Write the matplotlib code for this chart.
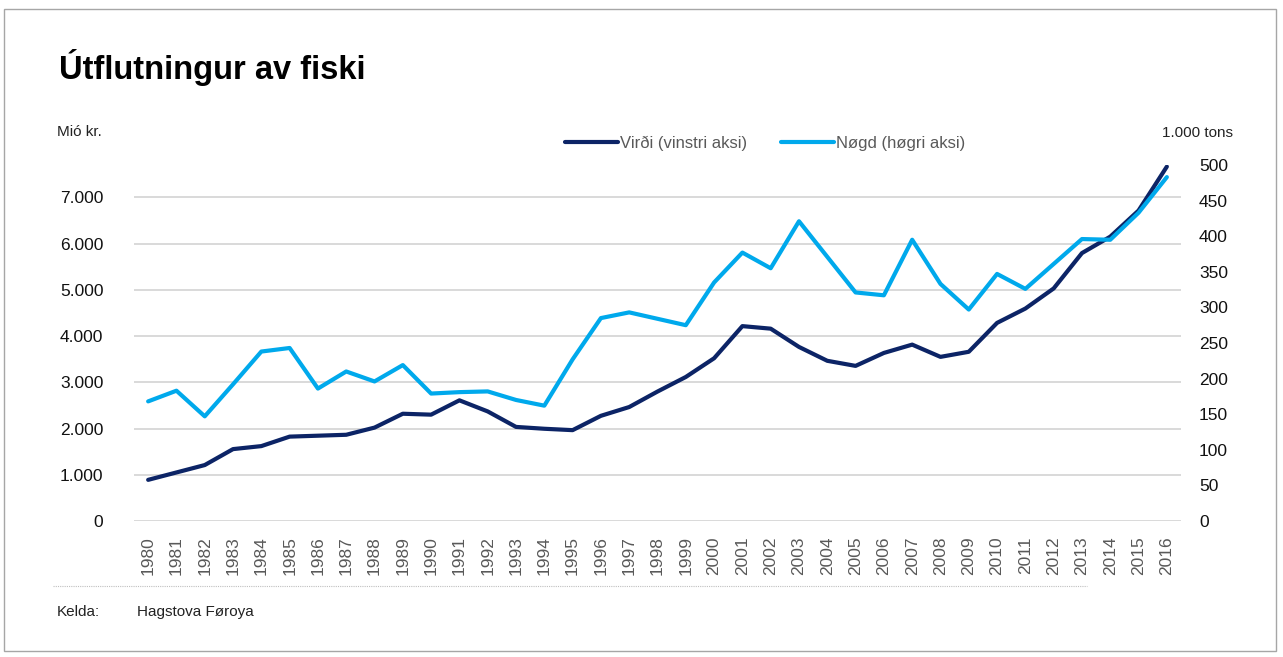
import matplotlib
matplotlib.use("Agg")
import matplotlib.pyplot as plt
from matplotlib.lines import Line2D
from matplotlib.patches import Rectangle

# ── Données ──────────────────────────────────────────────────────────────────
years = list(range(1980, 2017))

# Virði, mió kr. (vinstri aksi)
virdi = [890, 1050, 1210, 1555, 1620, 1825, 1845, 1865, 2020, 2320, 2300, 2610,
         2370, 2035, 1995, 1965, 2275, 2465, 2800, 3115, 3520, 4215, 4160, 3765,
         3465, 3355, 3635, 3815, 3550, 3660, 4285, 4595, 5030, 5795, 6150, 6715,
         7665]

# Nøgd, 1.000 tons (høgri aksi)
nogd = [168, 183, 147, 192, 238, 243, 186, 210, 196, 219, 179, 181,
        182, 170, 162, 227, 285, 293, 284, 275, 335, 377, 355, 421,
        371, 321, 317, 395, 333, 297, 347, 326, 361, 396, 395, 433,
        483]

left_ticks = [0, 1000, 2000, 3000, 4000, 5000, 6000, 7000]
left_labels = ["0", "1.000", "2.000", "3.000", "4.000", "5.000", "6.000", "7.000"]
right_ticks = list(range(0, 501, 50))

# ── Couleurs / polices ───────────────────────────────────────────────────────
navy = "#0c2466"
sky = "#00a9ec"
grid_col = "#d9d9d9"
plt.rcParams["font.family"] = ["Liberation Sans", "DejaVu Sans"]

# ── Figure ───────────────────────────────────────────────────────────────────
W, H = 1283, 657
fig = plt.figure(figsize=(W / 100, H / 100), dpi=100)

def fx(px):
    return px / W

def fy(py):
    return 1 - py / H

ax = fig.add_axes([fx(134), fy(521), fx(1181) - fx(134), fy(165) - fy(521)])
ax2 = ax.twinx()

x = list(range(len(years)))
l1, = ax.plot(x, virdi, color=navy, lw=3.0, solid_capstyle="round",
              solid_joinstyle="round", label="Virði (vinstri aksi)", zorder=3)
l2, = ax2.plot(x, nogd, color=sky, lw=3.0, solid_capstyle="round",
               solid_joinstyle="round", label="Nøgd (høgri aksi)", zorder=3)

ax.set_xlim(-0.5, len(years) - 0.5)
ax.set_ylim(0, 7700)
ax2.set_ylim(0, 500)

ax.set_yticks(left_ticks)
ax.set_yticklabels(left_labels)
ax2.set_yticks(right_ticks)
ax.set_xticks(x)
ax.set_xticklabels([str(y) for y in years], rotation=90)

ax.grid(axis="y", color=grid_col, lw=1.4)
ax.set_axisbelow(True)
for a in (ax, ax2):
    for s in a.spines.values():
        s.set_visible(False)

ax.tick_params(axis="y", length=0, pad=22, labelsize=12.5, labelcolor="#111111")
ax2.tick_params(axis="y", length=0, pad=13, labelsize=12.5, labelcolor="#111111")
ax.tick_params(axis="x", length=0, pad=11, labelsize=12.5, labelcolor="#595959")

# ── Légende ──────────────────────────────────────────────────────────────────
leg = fig.legend(handles=[l1, l2], loc="center", ncol=2, frameon=False,
                 bbox_to_anchor=(fx(765), fy(143)), handlelength=3.2,
                 handletextpad=0.1, columnspacing=2.0,
                 prop={"size": 12})
for t in leg.get_texts():
    t.set_color("#595959")

# ── Textes ───────────────────────────────────────────────────────────────────
fig.text(fx(59), fy(68), "Útflutningur av fiski", fontsize=23.5, fontweight="bold",
         va="center", ha="left", color="black")
fig.text(fx(57), fy(132), "Mió kr.", fontsize=11, va="center", ha="left",
         color="#222222")
fig.text(fx(1233), fy(133), "1.000 tons", fontsize=11, va="center", ha="right",
         color="#222222")
fig.text(fx(57), fy(612), "Kelda:", fontsize=11, va="center", ha="left",
         color="#222222")
fig.text(fx(137), fy(612), "Hagstova Føroya", fontsize=11, va="center",
         ha="left", color="#222222")

# ligne pointillée et cadre
fig.add_artist(Line2D([fx(53), fx(1087)], [fy(586), fy(586)], color="#bfbfbf",
                      lw=0.8, ls=(0, (1, 1))))
fig.add_artist(Rectangle((fx(4), fy(651)), fx(1276) - fx(4), fy(9) - fy(651),
                         fill=False, edgecolor="#a6a6a6", lw=1.0))

fig.savefig("out.png", dpi=100)
